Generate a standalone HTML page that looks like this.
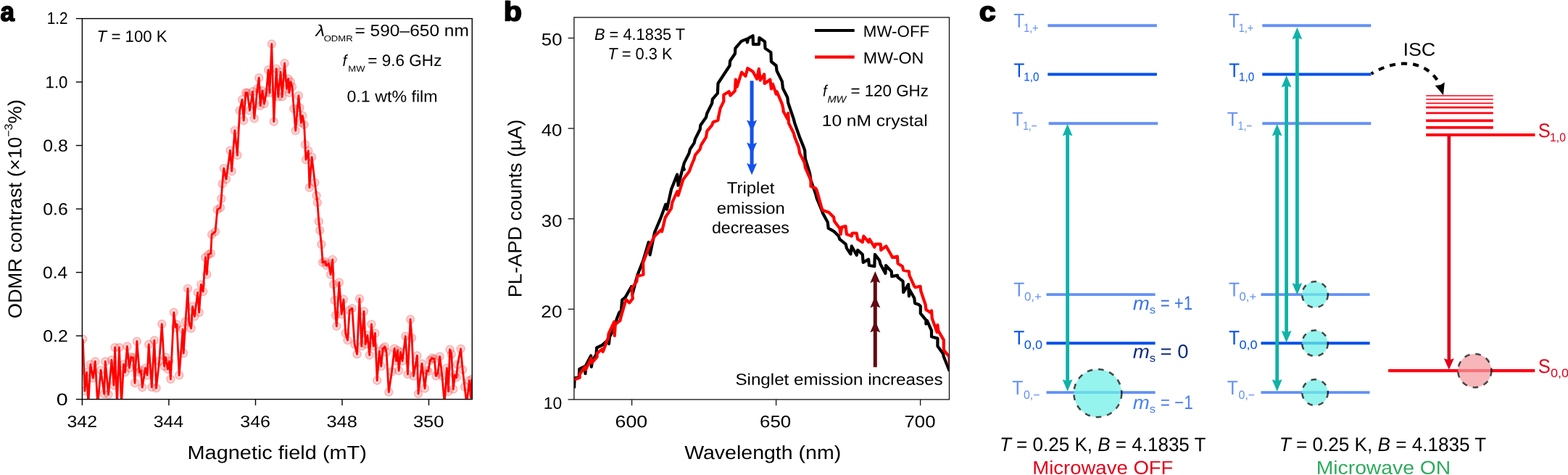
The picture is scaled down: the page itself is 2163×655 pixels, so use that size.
<!DOCTYPE html>
<html lang="en"><head><meta charset="utf-8"><title>Figure</title>
<style>
html,body{margin:0;padding:0;background:#fff;}
body{width:2163px;height:655px;overflow:hidden;}
svg{display:block;font-family:"Liberation Sans", sans-serif;}
</style></head><body>
<svg width="2163" height="655" viewBox="0 0 2163 655">
<rect width="2163" height="655" fill="#fff"/>
<g id="panel-a">
<text transform="translate(0.62,28.85) rotate(0.03) scale(0.9350,1)" font-size="37.3" font-weight="bold" stroke="#000" stroke-width="1.7" stroke-linejoin="round">a</text>
<clipPath id="clipA"><rect x="113.4" y="25.6" width="537.9" height="525.0"/></clipPath>
<g clip-path="url(#clipA)">
<g fill="#ff0000" fill-opacity="0.17" stroke="#ff0000" stroke-opacity="0.25" stroke-width="1.4">
<circle cx="114.3" cy="467.7" r="5.5"/>
<circle cx="116.9" cy="539.1" r="5.5"/>
<circle cx="119.5" cy="513.3" r="5.5"/>
<circle cx="121.9" cy="557.0" r="5.5"/>
<circle cx="124.8" cy="502.4" r="5.5"/>
<circle cx="128.4" cy="521.3" r="5.5"/>
<circle cx="131.4" cy="498.5" r="5.5"/>
<circle cx="134.8" cy="559.0" r="5.5"/>
<circle cx="139.1" cy="510.4" r="5.5"/>
<circle cx="143.7" cy="543.1" r="5.5"/>
<circle cx="145.3" cy="498.5" r="5.5"/>
<circle cx="149.6" cy="544.1" r="5.5"/>
<circle cx="154.0" cy="496.5" r="5.5"/>
<circle cx="157.0" cy="531.2" r="5.5"/>
<circle cx="158.6" cy="479.2" r="5.5"/>
<circle cx="161.5" cy="559.0" r="5.5"/>
<circle cx="164.5" cy="479.2" r="5.5"/>
<circle cx="167.5" cy="559.0" r="5.5"/>
<circle cx="170.5" cy="502.4" r="5.5"/>
<circle cx="172.5" cy="513.3" r="5.5"/>
<circle cx="175.4" cy="477.6" r="5.5"/>
<circle cx="178.4" cy="507.4" r="5.5"/>
<circle cx="180.8" cy="492.5" r="5.5"/>
<circle cx="183.8" cy="493.1" r="5.5"/>
<circle cx="186.0" cy="528.2" r="5.5"/>
<circle cx="188.9" cy="470.7" r="5.5"/>
<circle cx="192.3" cy="513.3" r="5.5"/>
<circle cx="194.3" cy="511.0" r="5.5"/>
<circle cx="196.3" cy="534.2" r="5.5"/>
<circle cx="200.6" cy="507.4" r="5.5"/>
<circle cx="203.2" cy="517.3" r="5.5"/>
<circle cx="205.2" cy="474.8" r="5.5"/>
<circle cx="209.3" cy="533.8" r="5.5"/>
<circle cx="212.9" cy="469.3" r="5.5"/>
<circle cx="215.6" cy="535.2" r="5.5"/>
<circle cx="219.7" cy="498.1" r="5.5"/>
<circle cx="223.3" cy="446.8" r="5.5"/>
<circle cx="226.6" cy="505.0" r="5.5"/>
<circle cx="228.5" cy="492.6" r="5.5"/>
<circle cx="231.5" cy="509.1" r="5.5"/>
<circle cx="233.5" cy="498.1" r="5.5"/>
<circle cx="235.4" cy="522.9" r="5.5"/>
<circle cx="239.8" cy="430.8" r="5.5"/>
<circle cx="242.3" cy="451.4" r="5.5"/>
<circle cx="243.9" cy="447.3" r="5.5"/>
<circle cx="247.2" cy="517.4" r="5.5"/>
<circle cx="252.1" cy="454.2" r="5.5"/>
<circle cx="253.2" cy="487.1" r="5.5"/>
<circle cx="256.0" cy="443.2" r="5.5"/>
<circle cx="259.0" cy="397.9" r="5.5"/>
<circle cx="260.9" cy="444.6" r="5.5"/>
<circle cx="263.7" cy="452.8" r="5.5"/>
<circle cx="265.6" cy="422.6" r="5.5"/>
<circle cx="268.4" cy="436.3" r="5.5"/>
<circle cx="272.7" cy="403.4" r="5.5"/>
<circle cx="274.7" cy="430.8" r="5.5"/>
<circle cx="277.4" cy="392.4" r="5.5"/>
<circle cx="280.2" cy="402.0" r="5.5"/>
<circle cx="283.4" cy="355.0" r="5.5"/>
<circle cx="285.3" cy="378.4" r="5.5"/>
<circle cx="287.5" cy="350.9" r="5.5"/>
<circle cx="290.8" cy="349.5" r="5.5"/>
<circle cx="292.1" cy="323.4" r="5.5"/>
<circle cx="297.1" cy="319.3" r="5.5"/>
<circle cx="299.8" cy="289.1" r="5.5"/>
<circle cx="304.0" cy="286.3" r="5.5"/>
<circle cx="305.3" cy="274.0" r="5.5"/>
<circle cx="306.7" cy="253.4" r="5.5"/>
<circle cx="308.7" cy="232.1" r="5.5"/>
<circle cx="312.0" cy="247.2" r="5.5"/>
<circle cx="317.5" cy="207.4" r="5.5"/>
<circle cx="319.7" cy="236.2" r="5.5"/>
<circle cx="323.8" cy="179.9" r="5.5"/>
<circle cx="327.4" cy="214.2" r="5.5"/>
<circle cx="330.7" cy="152.4" r="5.5"/>
<circle cx="334.0" cy="137.3" r="5.5"/>
<circle cx="336.2" cy="166.2" r="5.5"/>
<circle cx="339.0" cy="127.7" r="5.5"/>
<circle cx="341.2" cy="128.2" r="5.5"/>
<circle cx="344.5" cy="152.4" r="5.5"/>
<circle cx="348.6" cy="126.3" r="5.5"/>
<circle cx="350.8" cy="163.4" r="5.5"/>
<circle cx="355.0" cy="122.4" r="5.5"/>
<circle cx="357.2" cy="107.3" r="5.5"/>
<circle cx="359.1" cy="145.8" r="5.5"/>
<circle cx="361.9" cy="125.2" r="5.5"/>
<circle cx="364.6" cy="143.0" r="5.5"/>
<circle cx="367.4" cy="127.9" r="5.5"/>
<circle cx="370.1" cy="96.3" r="5.5"/>
<circle cx="372.0" cy="127.9" r="5.5"/>
<circle cx="374.8" cy="60.6" r="5.5"/>
<circle cx="377.8" cy="167.7" r="5.5"/>
<circle cx="381.1" cy="94.9" r="5.5"/>
<circle cx="383.8" cy="133.4" r="5.5"/>
<circle cx="387.1" cy="99.1" r="5.5"/>
<circle cx="389.3" cy="133.4" r="5.5"/>
<circle cx="392.6" cy="87.3" r="5.5"/>
<circle cx="395.4" cy="122.4" r="5.5"/>
<circle cx="397.6" cy="108.7" r="5.5"/>
<circle cx="399.0" cy="127.9" r="5.5"/>
<circle cx="400.9" cy="112.8" r="5.5"/>
<circle cx="403.1" cy="119.7" r="5.5"/>
<circle cx="405.3" cy="149.9" r="5.5"/>
<circle cx="407.7" cy="180.1" r="5.5"/>
<circle cx="411.9" cy="132.0" r="5.5"/>
<circle cx="413.5" cy="148.5" r="5.5"/>
<circle cx="415.4" cy="169.1" r="5.5"/>
<circle cx="417.4" cy="159.5" r="5.5"/>
<circle cx="419.6" cy="171.9" r="5.5"/>
<circle cx="420.9" cy="199.3" r="5.5"/>
<circle cx="422.0" cy="220.2" r="5.5"/>
<circle cx="425.3" cy="207.9" r="5.5"/>
<circle cx="426.9" cy="258.7" r="5.5"/>
<circle cx="430.2" cy="216.6" r="5.5"/>
<circle cx="434.3" cy="251.8" r="5.5"/>
<circle cx="436.5" cy="269.7" r="5.5"/>
<circle cx="437.9" cy="279.3" r="5.5"/>
<circle cx="439.8" cy="305.4" r="5.5"/>
<circle cx="441.2" cy="317.7" r="5.5"/>
<circle cx="443.4" cy="337.0" r="5.5"/>
<circle cx="445.1" cy="362.0" r="5.5"/>
<circle cx="447.9" cy="360.6" r="5.5"/>
<circle cx="450.6" cy="366.1" r="5.5"/>
<circle cx="453.4" cy="363.4" r="5.5"/>
<circle cx="456.1" cy="378.5" r="5.5"/>
<circle cx="458.8" cy="357.9" r="5.5"/>
<circle cx="460.2" cy="392.2" r="5.5"/>
<circle cx="461.6" cy="414.2" r="5.5"/>
<circle cx="463.0" cy="434.8" r="5.5"/>
<circle cx="464.3" cy="449.9" r="5.5"/>
<circle cx="467.9" cy="389.5" r="5.5"/>
<circle cx="471.2" cy="433.4" r="5.5"/>
<circle cx="474.0" cy="412.8" r="5.5"/>
<circle cx="476.7" cy="459.5" r="5.5"/>
<circle cx="479.5" cy="469.1" r="5.5"/>
<circle cx="482.2" cy="427.9" r="5.5"/>
<circle cx="485.8" cy="425.2" r="5.5"/>
<circle cx="489.1" cy="474.6" r="5.5"/>
<circle cx="492.6" cy="488.4" r="5.5"/>
<circle cx="495.9" cy="412.0" r="5.5"/>
<circle cx="498.7" cy="477.4" r="5.5"/>
<circle cx="502.0" cy="429.3" r="5.5"/>
<circle cx="504.2" cy="474.6" r="5.5"/>
<circle cx="506.9" cy="462.3" r="5.5"/>
<circle cx="509.7" cy="489.7" r="5.5"/>
<circle cx="512.4" cy="447.1" r="5.5"/>
<circle cx="515.2" cy="477.4" r="5.5"/>
<circle cx="517.4" cy="459.5" r="5.5"/>
<circle cx="520.2" cy="524.7" r="5.5"/>
<circle cx="523.3" cy="484.4" r="5.5"/>
<circle cx="525.8" cy="505.1" r="5.5"/>
<circle cx="528.2" cy="480.7" r="5.5"/>
<circle cx="530.7" cy="478.2" r="5.5"/>
<circle cx="533.1" cy="485.6" r="5.5"/>
<circle cx="536.3" cy="540.6" r="5.5"/>
<circle cx="540.5" cy="512.5" r="5.5"/>
<circle cx="544.1" cy="480.7" r="5.5"/>
<circle cx="546.6" cy="497.8" r="5.5"/>
<circle cx="548.5" cy="483.1" r="5.5"/>
<circle cx="550.2" cy="511.2" r="5.5"/>
<circle cx="552.7" cy="485.6" r="5.5"/>
<circle cx="555.1" cy="497.8" r="5.5"/>
<circle cx="559.3" cy="463.6" r="5.5"/>
<circle cx="562.5" cy="516.1" r="5.5"/>
<circle cx="566.1" cy="440.3" r="5.5"/>
<circle cx="568.1" cy="466.0" r="5.5"/>
<circle cx="570.5" cy="518.6" r="5.5"/>
<circle cx="575.4" cy="490.5" r="5.5"/>
<circle cx="577.1" cy="543.0" r="5.5"/>
<circle cx="582.0" cy="501.5" r="5.5"/>
<circle cx="586.0" cy="535.5" r="5.5"/>
<circle cx="588.6" cy="510.9" r="5.5"/>
<circle cx="590.7" cy="512.0" r="5.5"/>
<circle cx="593.3" cy="497.0" r="5.5"/>
<circle cx="596.0" cy="493.8" r="5.5"/>
<circle cx="599.3" cy="494.9" r="5.5"/>
<circle cx="601.4" cy="518.4" r="5.5"/>
<circle cx="604.0" cy="514.1" r="5.5"/>
<circle cx="606.7" cy="491.7" r="5.5"/>
<circle cx="609.9" cy="518.4" r="5.5"/>
<circle cx="613.2" cy="556.9" r="5.5"/>
<circle cx="616.4" cy="507.7" r="5.5"/>
<circle cx="618.5" cy="539.8" r="5.5"/>
<circle cx="620.6" cy="482.0" r="5.5"/>
<circle cx="622.8" cy="488.4" r="5.5"/>
<circle cx="625.3" cy="536.6" r="5.5"/>
<circle cx="627.5" cy="517.3" r="5.5"/>
<circle cx="629.6" cy="520.5" r="5.5"/>
<circle cx="631.3" cy="502.4" r="5.5"/>
<circle cx="635.6" cy="481.0" r="5.5"/>
<circle cx="638.2" cy="509.8" r="5.5"/>
<circle cx="641.0" cy="533.4" r="5.5"/>
<circle cx="643.7" cy="556.9" r="5.5"/>
<circle cx="647.4" cy="524.8" r="5.5"/>
<circle cx="649.5" cy="548.3" r="5.5"/>
<circle cx="651.0" cy="522.7" r="5.5"/>
</g>
<polyline points="114.3,467.7 116.9,539.1 119.5,513.3 121.9,557.0 124.8,502.4 128.4,521.3 131.4,498.5 134.8,559.0 139.1,510.4 143.7,543.1 145.3,498.5 149.6,544.1 154.0,496.5 157.0,531.2 158.6,479.2 161.5,559.0 164.5,479.2 167.5,559.0 170.5,502.4 172.5,513.3 175.4,477.6 178.4,507.4 180.8,492.5 183.8,493.1 186.0,528.2 188.9,470.7 192.3,513.3 194.3,511.0 196.3,534.2 200.6,507.4 203.2,517.3 205.2,474.8 209.3,533.8 212.9,469.3 215.6,535.2 219.7,498.1 223.3,446.8 226.6,505.0 228.5,492.6 231.5,509.1 233.5,498.1 235.4,522.9 239.8,430.8 242.3,451.4 243.9,447.3 247.2,517.4 252.1,454.2 253.2,487.1 256.0,443.2 259.0,397.9 260.9,444.6 263.7,452.8 265.6,422.6 268.4,436.3 272.7,403.4 274.7,430.8 277.4,392.4 280.2,402.0 283.4,355.0 285.3,378.4 287.5,350.9 290.8,349.5 292.1,323.4 297.1,319.3 299.8,289.1 304.0,286.3 305.3,274.0 306.7,253.4 308.7,232.1 312.0,247.2 317.5,207.4 319.7,236.2 323.8,179.9 327.4,214.2 330.7,152.4 334.0,137.3 336.2,166.2 339.0,127.7 341.2,128.2 344.5,152.4 348.6,126.3 350.8,163.4 355.0,122.4 357.2,107.3 359.1,145.8 361.9,125.2 364.6,143.0 367.4,127.9 370.1,96.3 372.0,127.9 374.8,60.6 377.8,167.7 381.1,94.9 383.8,133.4 387.1,99.1 389.3,133.4 392.6,87.3 395.4,122.4 397.6,108.7 399.0,127.9 400.9,112.8 403.1,119.7 405.3,149.9 407.7,180.1 411.9,132.0 413.5,148.5 415.4,169.1 417.4,159.5 419.6,171.9 420.9,199.3 422.0,220.2 425.3,207.9 426.9,258.7 430.2,216.6 434.3,251.8 436.5,269.7 437.9,279.3 439.8,305.4 441.2,317.7 443.4,337.0 445.1,362.0 447.9,360.6 450.6,366.1 453.4,363.4 456.1,378.5 458.8,357.9 460.2,392.2 461.6,414.2 463.0,434.8 464.3,449.9 467.9,389.5 471.2,433.4 474.0,412.8 476.7,459.5 479.5,469.1 482.2,427.9 485.8,425.2 489.1,474.6 492.6,488.4 495.9,412.0 498.7,477.4 502.0,429.3 504.2,474.6 506.9,462.3 509.7,489.7 512.4,447.1 515.2,477.4 517.4,459.5 520.2,524.7 523.3,484.4 525.8,505.1 528.2,480.7 530.7,478.2 533.1,485.6 536.3,540.6 540.5,512.5 544.1,480.7 546.6,497.8 548.5,483.1 550.2,511.2 552.7,485.6 555.1,497.8 559.3,463.6 562.5,516.1 566.1,440.3 568.1,466.0 570.5,518.6 575.4,490.5 577.1,543.0 582.0,501.5 586.0,535.5 588.6,510.9 590.7,512.0 593.3,497.0 596.0,493.8 599.3,494.9 601.4,518.4 604.0,514.1 606.7,491.7 609.9,518.4 613.2,556.9 616.4,507.7 618.5,539.8 620.6,482.0 622.8,488.4 625.3,536.6 627.5,517.3 629.6,520.5 631.3,502.4 635.6,481.0 638.2,509.8 641.0,533.4 643.7,556.9 647.4,524.8 649.5,548.3 651.0,522.7" fill="none" stroke="#ff0000" stroke-width="2.8" stroke-linejoin="round" stroke-linecap="butt"/>
</g>
<g stroke="#000" stroke-width="1.4" fill="none">
<rect x="113.4" y="25.6" width="537.9" height="525.0"/>
<line x1="104.8" y1="550.6" x2="113.4" y2="550.6"/>
<line x1="104.8" y1="463.1" x2="113.4" y2="463.1"/>
<line x1="104.8" y1="375.6" x2="113.4" y2="375.6"/>
<line x1="104.8" y1="288.1" x2="113.4" y2="288.1"/>
<line x1="104.8" y1="200.6" x2="113.4" y2="200.6"/>
<line x1="104.8" y1="113.1" x2="113.4" y2="113.1"/>
<line x1="104.8" y1="25.6" x2="113.4" y2="25.6"/>
<line x1="113.4" y1="550.6" x2="113.4" y2="558.9"/>
<line x1="232.9" y1="550.6" x2="232.9" y2="558.9"/>
<line x1="352.5" y1="550.6" x2="352.5" y2="558.9"/>
<line x1="472.0" y1="550.6" x2="472.0" y2="558.9"/>
<line x1="591.5" y1="550.6" x2="591.5" y2="558.9"/>
</g>
<text transform="translate(77.87,558.75) rotate(0.03) scale(1.2273,1)" font-size="23.3">0</text>
<text transform="translate(59.23,471.25) rotate(0.03) scale(1.0678,1)" font-size="23.3">0.2</text>
<text transform="translate(59.04,383.75) rotate(0.03) scale(1.0569,1)" font-size="23.3">0.4</text>
<text transform="translate(59.23,296.25) rotate(0.03) scale(1.0678,1)" font-size="23.3">0.6</text>
<text transform="translate(59.23,208.75) rotate(0.03) scale(1.0678,1)" font-size="23.3">0.8</text>
<text transform="translate(62.53,121.25) rotate(0.03) scale(0.9546,1)" font-size="23.3">1.0</text>
<text transform="translate(64.74,32.90) rotate(0.03) scale(0.8915,1)" font-size="23.3">1.2</text>
<text transform="translate(92.45,589.00) rotate(0.03) scale(1.1014,1)" font-size="22.6">342</text>
<text transform="translate(211.73,589.00) rotate(0.03) scale(1.1000,1)" font-size="22.6">344</text>
<text transform="translate(331.26,589.00) rotate(0.03) scale(1.1077,1)" font-size="22.6">346</text>
<text transform="translate(450.53,589.00) rotate(0.03) scale(1.1217,1)" font-size="22.6">348</text>
<text transform="translate(569.90,589.00) rotate(0.03) scale(1.1301,1)" font-size="22.6">350</text>
<text transform="translate(258.53,632.90) rotate(0.03) scale(1.0997,1)" font-size="26.3">Magnetic field (mT)</text>
<text transform="translate(29.70,439.30) rotate(-90.03) scale(1.0365,1)" font-size="26.3">ODMR contrast (×10<tspan font-size="15.5" dy="-12.5">−3</tspan><tspan dy="12.5">%)</tspan></text>
<text transform="translate(133.61,57.70) rotate(0.03) scale(0.9937,1)" font-size="22.4"><tspan font-style="italic">T</tspan> = 100 K</text>
<text transform="translate(435.46,49.80) rotate(0.03) scale(1.1628,1)" font-size="22"><tspan font-style="italic">λ</tspan></text>
<text transform="translate(446.63,57.10) rotate(0.03) scale(1.1382,1)" font-size="11.5">ODMR</text>
<text transform="translate(489.41,49.80) rotate(0.03) scale(1.0863,1)" font-size="22.6">= 590–650 nm</text>
<text transform="translate(472.50,90.90) rotate(0.03) scale(0.9379,1)" font-size="22"><tspan font-style="italic">f</tspan></text>
<text transform="translate(480.36,98.80) rotate(0.03) scale(1.1377,1)" font-size="11.5">MW</text>
<text transform="translate(507.29,90.90) rotate(0.03) scale(1.0065,1)" font-size="22.4">= 9.6 GHz</text>
<text transform="translate(478.41,140.50) rotate(0.03) scale(1.0468,1)" font-size="22.2">0.1 wt% film</text>
</g>
<g id="panel-b">
<text transform="translate(694.68,28.55) rotate(0.03) scale(1.1093,1)" font-size="37.3" font-weight="bold" stroke="#000" stroke-width="1.7" stroke-linejoin="round">b</text>
<clipPath id="clipB"><rect x="791.9" y="24.0" width="517.6" height="526.9"/></clipPath>
<g clip-path="url(#clipB)">
<polyline points="792.0,535.3 792.7,521.6 798.7,519.8 799.3,508.8 807.0,505.1 807.4,515.2 808.5,503.3 815.2,490.5 815.8,506.0 817.1,497.8 822.6,488.6 823.1,479.5 830.8,475.8 838.1,469.4 840.0,474.0 840.9,464.8 847.3,452.0 851.0,439.2 854.3,430.9 856.9,428.1 858.2,413.6 862.7,409.9 871.0,395.3 872.5,405.3 879.2,379.7 887.5,358.6 894.8,333.9 896.6,351.3 903.1,320.2 911.3,300.9 918.3,281.8 919.9,288.7 926.0,261.2 934.2,240.6 935.6,255.7 942.4,229.6 943.8,233.7 942.4,230.4 943.7,224.9 950.6,211.1 952.0,205.6 957.5,197.4 958.9,191.9 965.7,178.2 966.3,172.7 974.0,161.7 975.3,156.2 982.2,142.4 982.8,136.9 989.9,128.7 990.5,115.0 1006.6,90.5 1007.1,84.0 1013.9,74.0 1014.4,66.6 1022.1,57.5 1023.1,56.6 1030.4,53.8 1030.9,58.4 1032.2,52.9 1038.6,49.2 1039.0,61.1 1046.9,61.1 1047.4,52.0 1055.1,57.5 1055.5,66.6 1063.4,72.1 1063.9,85.0 1070.7,90.5 1071.6,97.8 1078.9,112.4 1079.9,121.6 1086.3,134.4 1087.2,141.8 1094.9,164.4 1096.3,169.9 1103.1,189.2 1108.6,202.9 1110.2,207.5 1110.8,218.5 1117.1,239.1 1118.5,248.7 1125.3,267.9 1126.7,273.4 1133.6,289.9 1135.0,294.0 1141.8,306.4 1142.7,314.7 1150.1,318.8 1156.9,325.6 1158.3,329.8 1166.6,336.6 1167.9,342.1 1173.4,350.4 1174.8,339.4 1181.7,351.8 1183.1,344.9 1189.8,350.8 1190.7,361.8 1198.1,357.7 1198.9,366.0 1206.3,367.3 1206.9,350.8 1213.2,359.1 1214.6,364.6 1221.4,376.9 1222.0,366.0 1229.7,374.2 1230.2,381.1 1237.9,379.7 1238.5,382.4 1245.6,387.9 1246.2,403.1 1253.1,392.1 1253.9,408.5 1254.4,398.9 1261.3,411.3 1262.1,418.2 1267.5,420.0 1269.8,422.3 1269.8,432.2 1277.4,441.4 1277.4,446.7 1278.9,442.1 1285.0,455.9 1285.0,464.3 1293.4,466.6 1293.4,477.3 1301.1,487.9 1301.8,491.8 1309.8,511.6" fill="none" stroke="#000" stroke-width="4.2" stroke-linejoin="round" stroke-linecap="butt"/>
<polyline points="791.8,523.4 799.7,520.7 799.7,516.1 807.0,506.0 807.9,509.7 814.3,496.9 815.2,494.1 816.1,500.5 823.5,492.3 823.8,486.8 830.8,481.3 831.7,485.0 839.0,465.7 839.6,460.2 847.3,443.7 847.8,463.0 848.8,447.4 855.5,441.9 856.5,437.3 862.2,417.3 864.0,413.2 868.2,417.6 872.8,411.8 871.4,398.0 873.2,395.3 878.3,387.9 879.2,380.6 887.5,378.8 887.1,362.3 895.7,339.4 903.1,325.6 911.8,316.9 913.1,319.2 917.7,300.0 926.0,287.3 927.3,279.1 934.2,264.0 935.6,269.5 942.4,247.5 950.7,236.5 954.8,225.5 957.5,219.4 958.9,213.9 965.7,205.6 967.1,200.1 974.0,189.2 975.3,180.9 982.2,172.7 983.6,168.5 990.5,165.8 991.0,161.7 993.7,149.1 998.3,139.9 998.3,130.8 1005.6,126.2 1007.5,131.7 1013.9,125.3 1014.8,109.7 1016.6,119.8 1023.1,99.6 1028.5,105.1 1031.3,94.1 1038.6,98.7 1044.1,108.8 1046.9,95.0 1048.7,110.6 1054.2,102.4 1054.7,115.2 1062.4,109.7 1063.9,122.5 1066.1,116.1 1070.7,129.8 1071.6,126.2 1078.9,143.6 1080.4,150.0 1080.6,153.4 1086.6,164.4 1087.2,156.2 1088.0,169.9 1094.9,183.7 1096.3,189.2 1101.8,202.9 1103.1,211.1 1110.0,224.9 1110.2,226.7 1110.8,230.8 1118.5,248.7 1118.5,256.9 1125.3,259.7 1126.7,262.4 1133.6,287.2 1135.0,289.9 1143.2,292.7 1150.1,299.5 1150.9,305.0 1158.3,314.7 1159.7,322.9 1161.1,313.3 1166.6,311.9 1167.9,322.9 1174.8,325.6 1175.6,321.5 1181.7,321.5 1183.1,329.8 1189.9,333.9 1191.3,325.6 1198.2,333.9 1199.5,329.8 1206.4,340.8 1207.8,336.6 1214.7,336.6 1215.2,344.9 1222.3,339.4 1229.7,352.2 1231.1,355.0 1237.9,353.6 1238.5,363.2 1244.8,367.3 1246.2,372.8 1253.9,374.2 1254.4,379.7 1261.3,394.8 1262.7,396.2 1269.5,394.8 1270.4,401.7 1276.6,420.0 1277.4,426.9 1284.3,431.5 1285.0,428.4 1285.8,439.1 1292.7,458.2 1293.4,448.2 1294.2,455.9 1301.8,468.9 1301.8,482.6 1309.5,491.8 1309.9,503.2" fill="none" stroke="#ff0000" stroke-width="4.2" stroke-linejoin="round" stroke-linecap="butt"/>
</g>
<g fill="#1450eb" stroke="none">
<rect x="1034.60" y="111.4" width="5.0" height="123.9"/>
<path d="M1037.1,181.8 L1030.1,165.5 L1037.1,168.5 L1044.1,165.5 Z"/>
<path d="M1037.1,212.7 L1030.1,196.4 L1037.1,199.4 L1044.1,196.4 Z"/>
<path d="M1037.1,241.3 L1030.1,225.0 L1037.1,228.0 L1044.1,225.0 Z"/>
</g>
<g fill="#5f0b13" stroke="none">
<rect x="1204.80" y="380.0" width="5.0" height="126.3"/>
<path d="M1207.3,374.0 L1200.3,390.3 L1207.3,387.3 L1214.3,390.3 Z"/>
<path d="M1207.3,408.1 L1200.3,424.4 L1207.3,421.4 L1214.3,424.4 Z"/>
<path d="M1207.3,442.2 L1200.3,458.5 L1207.3,455.5 L1214.3,458.5 Z"/>
</g>
<g stroke="#111" stroke-width="1.3" fill="none">
<rect x="791.9" y="24.0" width="517.6" height="526.9"/>
<line x1="783.6" y1="550.9" x2="791.9" y2="550.9"/>
<line x1="783.6" y1="426.3" x2="791.9" y2="426.3"/>
<line x1="783.6" y1="301.7" x2="791.9" y2="301.7"/>
<line x1="783.6" y1="177.1" x2="791.9" y2="177.1"/>
<line x1="783.6" y1="52.5" x2="791.9" y2="52.5"/>
<line x1="871.6" y1="550.9" x2="871.6" y2="559.1999999999999"/>
<line x1="1070.6" y1="550.9" x2="1070.6" y2="559.1999999999999"/>
<line x1="1269.6" y1="550.9" x2="1269.6" y2="559.1999999999999"/>
</g>
<text transform="translate(749.75,563.70) rotate(0.03) scale(1.0000,1)" font-size="23.0">10</text>
<text transform="translate(746.30,437.75) rotate(0.03) scale(1.1167,1)" font-size="23.5">20</text>
<text transform="translate(746.80,312.65) rotate(0.03) scale(1.0969,1)" font-size="23.5">30</text>
<text transform="translate(746.65,187.55) rotate(0.03) scale(1.1030,1)" font-size="23.5">40</text>
<text transform="translate(746.80,62.45) rotate(0.03) scale(1.0969,1)" font-size="23.5">50</text>
<text transform="translate(848.56,589.20) rotate(0.03) scale(1.1483,1)" font-size="23.3">600</text>
<text transform="translate(1048.11,589.20) rotate(0.03) scale(1.1102,1)" font-size="23.3">650</text>
<text transform="translate(1247.52,589.20) rotate(0.03) scale(1.1048,1)" font-size="23.3">700</text>
<text transform="translate(944.13,633.00) rotate(0.03) scale(1.0844,1)" font-size="26.3">Wavelength (nm)</text>
<text transform="translate(719.40,410.33) rotate(-90.03) scale(1.0354,1)" font-size="26.3">PL-APD counts (µA)</text>
<text transform="translate(819.97,55.00) rotate(0.03) scale(0.9752,1)" font-size="22.4"><tspan font-style="italic">B</tspan> = 4.1835 T</text>
<text transform="translate(838.35,81.80) rotate(0.03) scale(0.9748,1)" font-size="22.4"><tspan font-style="italic">T</tspan> = 0.3 K</text>
<line x1="1124" y1="42" x2="1178.7" y2="42" stroke="#000" stroke-width="4.2"/>
<line x1="1124" y1="78.7" x2="1178.7" y2="78.7" stroke="#ff0000" stroke-width="4.2"/>
<text transform="translate(1190.83,50.70) rotate(0.03) scale(1.0108,1)" font-size="22.1">MW-OFF</text>
<text transform="translate(1190.76,87.50) rotate(0.03) scale(1.0535,1)" font-size="22.1">MW-ON</text>
<text transform="translate(1135.02,132.70) rotate(0.03) scale(0.9103,1)" font-size="22"><tspan font-style="italic">f</tspan></text>
<text transform="translate(1141.46,141.60) rotate(0.03) scale(1.0816,1)" font-size="13.5"><tspan font-style="italic">MW</tspan></text>
<text transform="translate(1173.40,132.70) rotate(0.03) scale(0.9981,1)" font-size="22.4">= 120 GHz</text>
<text transform="translate(1133.75,173.80) rotate(0.03) scale(1.1161,1)" font-size="22">10 nM crystal</text>
<text transform="translate(1002.76,266.60) rotate(0.03) scale(1.0788,1)" font-size="22.2">Triplet</text>
<text transform="translate(988.83,294.60) rotate(0.03) scale(1.0741,1)" font-size="22.2">emission</text>
<text transform="translate(981.96,321.50) rotate(0.03) scale(1.0438,1)" font-size="22.2">decreases</text>
<text transform="translate(1014.41,530.70) rotate(0.03) scale(1.0895,1)" font-size="22.2">Singlet emission increases</text>
</g>
<g id="panel-c">
<text transform="translate(1350.79,28.75) rotate(0.03) scale(1.1056,1)" font-size="37.3" font-weight="bold" stroke="#000" stroke-width="1.7" stroke-linejoin="round">c</text>
<line x1="1445.3" y1="35.3" x2="1595.9" y2="35.3" stroke="#6491f5" stroke-width="3.9"/>
<line x1="1445.3" y1="102.5" x2="1595.9" y2="102.5" stroke="#0050eb" stroke-width="3.9"/>
<line x1="1446.6" y1="170.3" x2="1597.2" y2="170.3" stroke="#6491f5" stroke-width="3.9"/>
<line x1="1443.5" y1="406.1" x2="1593.6" y2="406.1" stroke="#6491f5" stroke-width="3.9"/>
<line x1="1443.5" y1="473.3" x2="1593.6" y2="473.3" stroke="#0050eb" stroke-width="3.9"/>
<line x1="1443.5" y1="541.1" x2="1593.6" y2="541.1" stroke="#6491f5" stroke-width="3.9"/>
<text transform="translate(1398.15,37.80) rotate(0.03) scale(0.9032,1)" font-size="27.2" fill="#6491f5">T</text>
<text transform="translate(1412.21,43.60) rotate(0.03) scale(0.8706,1)" font-size="16.4" fill="#6491f5">1,+</text>
<text transform="translate(1398.55,106.20) rotate(0.03) scale(0.8903,1)" font-size="27.2" fill="#0050eb">T</text>
<text transform="translate(1412.34,111.60) rotate(0.03) scale(0.9286,1)" font-size="16.4" fill="#0050eb">1,0</text>
<text transform="translate(1396.25,173.60) rotate(0.03) scale(0.9032,1)" font-size="27.2" fill="#6491f5">T</text>
<text transform="translate(1411.15,179.40) rotate(0.03) scale(0.8376,1)" font-size="16.4" fill="#6491f5">1,−</text>
<text transform="translate(1398.35,408.50) rotate(0.03) scale(0.9032,1)" font-size="27.2" fill="#6491f5">T</text>
<text transform="translate(1412.93,414.60) rotate(0.03) scale(1.0253,1)" font-size="16.4" fill="#6491f5">0,+</text>
<text transform="translate(1398.35,475.10) rotate(0.03) scale(0.9032,1)" font-size="27.2" fill="#0050eb">T</text>
<text transform="translate(1412.87,480.90) rotate(0.03) scale(1.1023,1)" font-size="16.4" fill="#0050eb">0,0</text>
<text transform="translate(1396.15,543.90) rotate(0.03) scale(0.9032,1)" font-size="27.2" fill="#6491f5">T</text>
<text transform="translate(1411.97,550.00) rotate(0.03) scale(0.9701,1)" font-size="16.4" fill="#6491f5">0,−</text>
<line x1="1741.3" y1="35.3" x2="1891.3" y2="35.3" stroke="#6491f5" stroke-width="3.9"/>
<line x1="1741.3" y1="102.5" x2="1891.3" y2="102.5" stroke="#0050eb" stroke-width="3.9"/>
<line x1="1741.3" y1="170.3" x2="1891.3" y2="170.3" stroke="#6491f5" stroke-width="3.9"/>
<line x1="1739.5" y1="406.1" x2="1889.6" y2="406.1" stroke="#6491f5" stroke-width="3.9"/>
<line x1="1739.5" y1="473.3" x2="1889.6" y2="473.3" stroke="#0050eb" stroke-width="3.9"/>
<line x1="1739.5" y1="541.1" x2="1889.6" y2="541.1" stroke="#6491f5" stroke-width="3.9"/>
<text transform="translate(1694.75,37.80) rotate(0.03) scale(0.9032,1)" font-size="27.2" fill="#6491f5">T</text>
<text transform="translate(1708.81,43.60) rotate(0.03) scale(0.8706,1)" font-size="16.4" fill="#6491f5">1,+</text>
<text transform="translate(1695.15,106.20) rotate(0.03) scale(0.8903,1)" font-size="27.2" fill="#0050eb">T</text>
<text transform="translate(1708.94,111.60) rotate(0.03) scale(0.9286,1)" font-size="16.4" fill="#0050eb">1,0</text>
<text transform="translate(1692.85,173.60) rotate(0.03) scale(0.9032,1)" font-size="27.2" fill="#6491f5">T</text>
<text transform="translate(1707.75,179.40) rotate(0.03) scale(0.8376,1)" font-size="16.4" fill="#6491f5">1,−</text>
<text transform="translate(1694.95,408.50) rotate(0.03) scale(0.9032,1)" font-size="27.2" fill="#6491f5">T</text>
<text transform="translate(1709.53,414.60) rotate(0.03) scale(1.0253,1)" font-size="16.4" fill="#6491f5">0,+</text>
<text transform="translate(1694.95,475.10) rotate(0.03) scale(0.9032,1)" font-size="27.2" fill="#0050eb">T</text>
<text transform="translate(1709.47,480.90) rotate(0.03) scale(1.1023,1)" font-size="16.4" fill="#0050eb">0,0</text>
<text transform="translate(1692.75,543.90) rotate(0.03) scale(0.9032,1)" font-size="27.2" fill="#6491f5">T</text>
<text transform="translate(1708.57,550.00) rotate(0.03) scale(0.9701,1)" font-size="16.4" fill="#6491f5">0,−</text>
<g fill="#0fb2a8">
<rect x="1470.20" y="184.0" width="4.8" height="342.6"/>
<path d="M1472.6,539.7 L1465.7,523.2 L1472.6,525.6 L1479.5,523.2 Z"/>
<path d="M1472.6,170.9 L1465.7,187.4 L1472.6,185.0 L1479.5,187.4 Z"/>
</g>
<circle cx="1514.3" cy="542.2" r="33.0" fill="#6df1e7" stroke="#000" stroke-width="2.5" stroke-dasharray="7.6 8" opacity="0.72"/>
<text transform="translate(1562.77,427.20) rotate(0.03) scale(1.0650,1)" font-size="26" fill="#3c72ea"><tspan font-style="italic">m</tspan></text>
<text transform="translate(1585.75,432.20) rotate(0.03) scale(1.0923,1)" font-size="15.2" fill="#3c72ea">s</text>
<text transform="translate(1600.77,427.20) rotate(0.03) scale(0.8255,1)" font-size="26.8" fill="#3c72ea">= +1</text>
<text transform="translate(1562.77,493.80) rotate(0.03) scale(1.0650,1)" font-size="26" fill="#0b2a80"><tspan font-style="italic">m</tspan></text>
<text transform="translate(1585.75,498.80) rotate(0.03) scale(1.0923,1)" font-size="15.2" fill="#0b2a80">s</text>
<text transform="translate(1600.52,493.80) rotate(0.03) scale(1.0238,1)" font-size="26.8" fill="#0b2a80">= 0</text>
<text transform="translate(1562.77,564.00) rotate(0.03) scale(1.0650,1)" font-size="26" fill="#4a80f0"><tspan font-style="italic">m</tspan></text>
<text transform="translate(1585.75,569.00) rotate(0.03) scale(1.0923,1)" font-size="15.2" fill="#4a80f0">s</text>
<text transform="translate(1600.75,564.00) rotate(0.03) scale(0.8373,1)" font-size="26.8" fill="#4a80f0">= −1</text>
<text transform="translate(1378.97,622.00) rotate(0.03) scale(0.9714,1)" font-size="26.8"><tspan font-style="italic">T</tspan> = 0.25 K, <tspan font-style="italic">B</tspan> = 4.1835 T</text>
<text transform="translate(1424.22,653.70) rotate(0.03) scale(1.0591,1)" font-size="26" fill="#e2001a">Microwave OFF</text>
<g fill="#0fb2a8">
<rect x="1759.30" y="184.0" width="4.8" height="342.6"/>
<path d="M1761.7,539.7 L1754.8,523.2 L1761.7,525.6 L1768.6,523.2 Z"/>
<path d="M1761.7,170.9 L1754.8,187.4 L1761.7,185.0 L1768.6,187.4 Z"/>
</g>
<g fill="#0fb2a8">
<rect x="1772.20" y="117.0" width="4.8" height="342.5"/>
<path d="M1774.6,472.6 L1767.7,456.1 L1774.6,458.5 L1781.5,456.1 Z"/>
<path d="M1774.6,103.9 L1767.7,120.4 L1774.6,118.0 L1781.5,120.4 Z"/>
</g>
<g fill="#0fb2a8">
<rect x="1787.00" y="50.9" width="4.8" height="342.7"/>
<path d="M1789.4,406.7 L1782.5,390.2 L1789.4,392.6 L1796.3,390.2 Z"/>
<path d="M1789.4,37.8 L1782.5,54.3 L1789.4,51.9 L1796.3,54.3 Z"/>
</g>
<circle cx="1814.0" cy="406.1" r="17.85" fill="#6df1e7" stroke="#000" stroke-width="2.5" stroke-dasharray="7.6 8" opacity="0.72"/>
<circle cx="1814.0" cy="473.3" r="17.85" fill="#6df1e7" stroke="#000" stroke-width="2.5" stroke-dasharray="7.6 8" opacity="0.72"/>
<circle cx="1814.0" cy="541.1" r="17.85" fill="#6df1e7" stroke="#000" stroke-width="2.5" stroke-dasharray="7.6 8" opacity="0.72"/>
<text transform="translate(1935.40,76.80) rotate(0.03) scale(1.0684,1)" font-size="25.2">ISC</text>
<path d="M1891.6,101.8 C1893.8,100.7 1900.1,96.9 1904.9,94.9 C1909.7,92.9 1915.0,90.9 1920.2,89.7 C1925.4,88.5 1930.7,87.8 1936.1,87.7 C1941.5,87.7 1947.3,88.1 1952.5,89.4 C1957.7,90.7 1962.9,92.8 1967.4,95.6 C1971.9,98.4 1976.1,102.5 1979.3,106.0 C1982.5,109.5 1985.4,114.8 1986.6,116.5" fill="none" stroke="#000" stroke-width="4.2" stroke-dasharray="8.2 8" stroke-dashoffset="4.6"/>
<path d="M1991,131.2 L1979.7,118.1 L1987.2,116.9 L1992.8,113.5 Z" fill="#000"/>
<line x1="1967.2" y1="132.0" x2="2059.8" y2="132.0" stroke="#ff0014" stroke-width="1.5"/>
<line x1="1967.2" y1="137.1" x2="2059.8" y2="137.1" stroke="#ff0014" stroke-width="1.5"/>
<line x1="1967.2" y1="142.3" x2="2059.8" y2="142.3" stroke="#ff0014" stroke-width="1.7"/>
<line x1="1967.2" y1="148.2" x2="2059.8" y2="148.2" stroke="#ff0014" stroke-width="2.7"/>
<line x1="1967.2" y1="155.9" x2="2059.8" y2="155.9" stroke="#ff0014" stroke-width="2.9"/>
<line x1="1967.2" y1="166.4" x2="2059.8" y2="166.4" stroke="#ff0014" stroke-width="3.8"/>
<line x1="1967.2" y1="175.9" x2="2059.8" y2="175.9" stroke="#ff0014" stroke-width="3.9"/>
<line x1="1967.2" y1="186.1" x2="2117.5" y2="186.1" stroke="#ff0014" stroke-width="4.0"/>
<line x1="1915.1" y1="511.1" x2="2117.3" y2="511.1" stroke="#ff0014" stroke-width="4.1"/>
<g fill="#e10019">
<rect x="1996.50" y="186.0" width="4.6" height="311.6"/>
<path d="M1998.8,509.8 L1991.8,494.2 L1998.8,496.6 L2005.8,494.2 Z"/>
</g>
<circle cx="2034.3" cy="511.1" r="23.1" fill="#f49a9f" stroke="#000" stroke-width="2.5" stroke-dasharray="7.6 8" opacity="0.72"/>
<text transform="translate(2121.73,189.30) rotate(0.03) scale(0.9397,1)" font-size="27.2" fill="#e10019">S</text>
<text transform="translate(2138.10,195.10) rotate(0.03) scale(0.9571,1)" font-size="16.4" fill="#e10019">1,0</text>
<text transform="translate(2121.73,514.30) rotate(0.03) scale(0.9397,1)" font-size="27.2" fill="#e10019">S</text>
<text transform="translate(2138.97,520.10) rotate(0.03) scale(1.1023,1)" font-size="16.4" fill="#e10019">0,0</text>
<text transform="translate(1764.76,622.00) rotate(0.03) scale(0.9745,1)" font-size="26.8"><tspan font-style="italic">T</tspan> = 0.25 K, <tspan font-style="italic">B</tspan> = 4.1835 T</text>
<text transform="translate(1815.75,653.70) rotate(0.03) scale(1.0880,1)" font-size="26" fill="#2eaa5c">Microwave ON</text>
</g>
</svg>
</body></html>
